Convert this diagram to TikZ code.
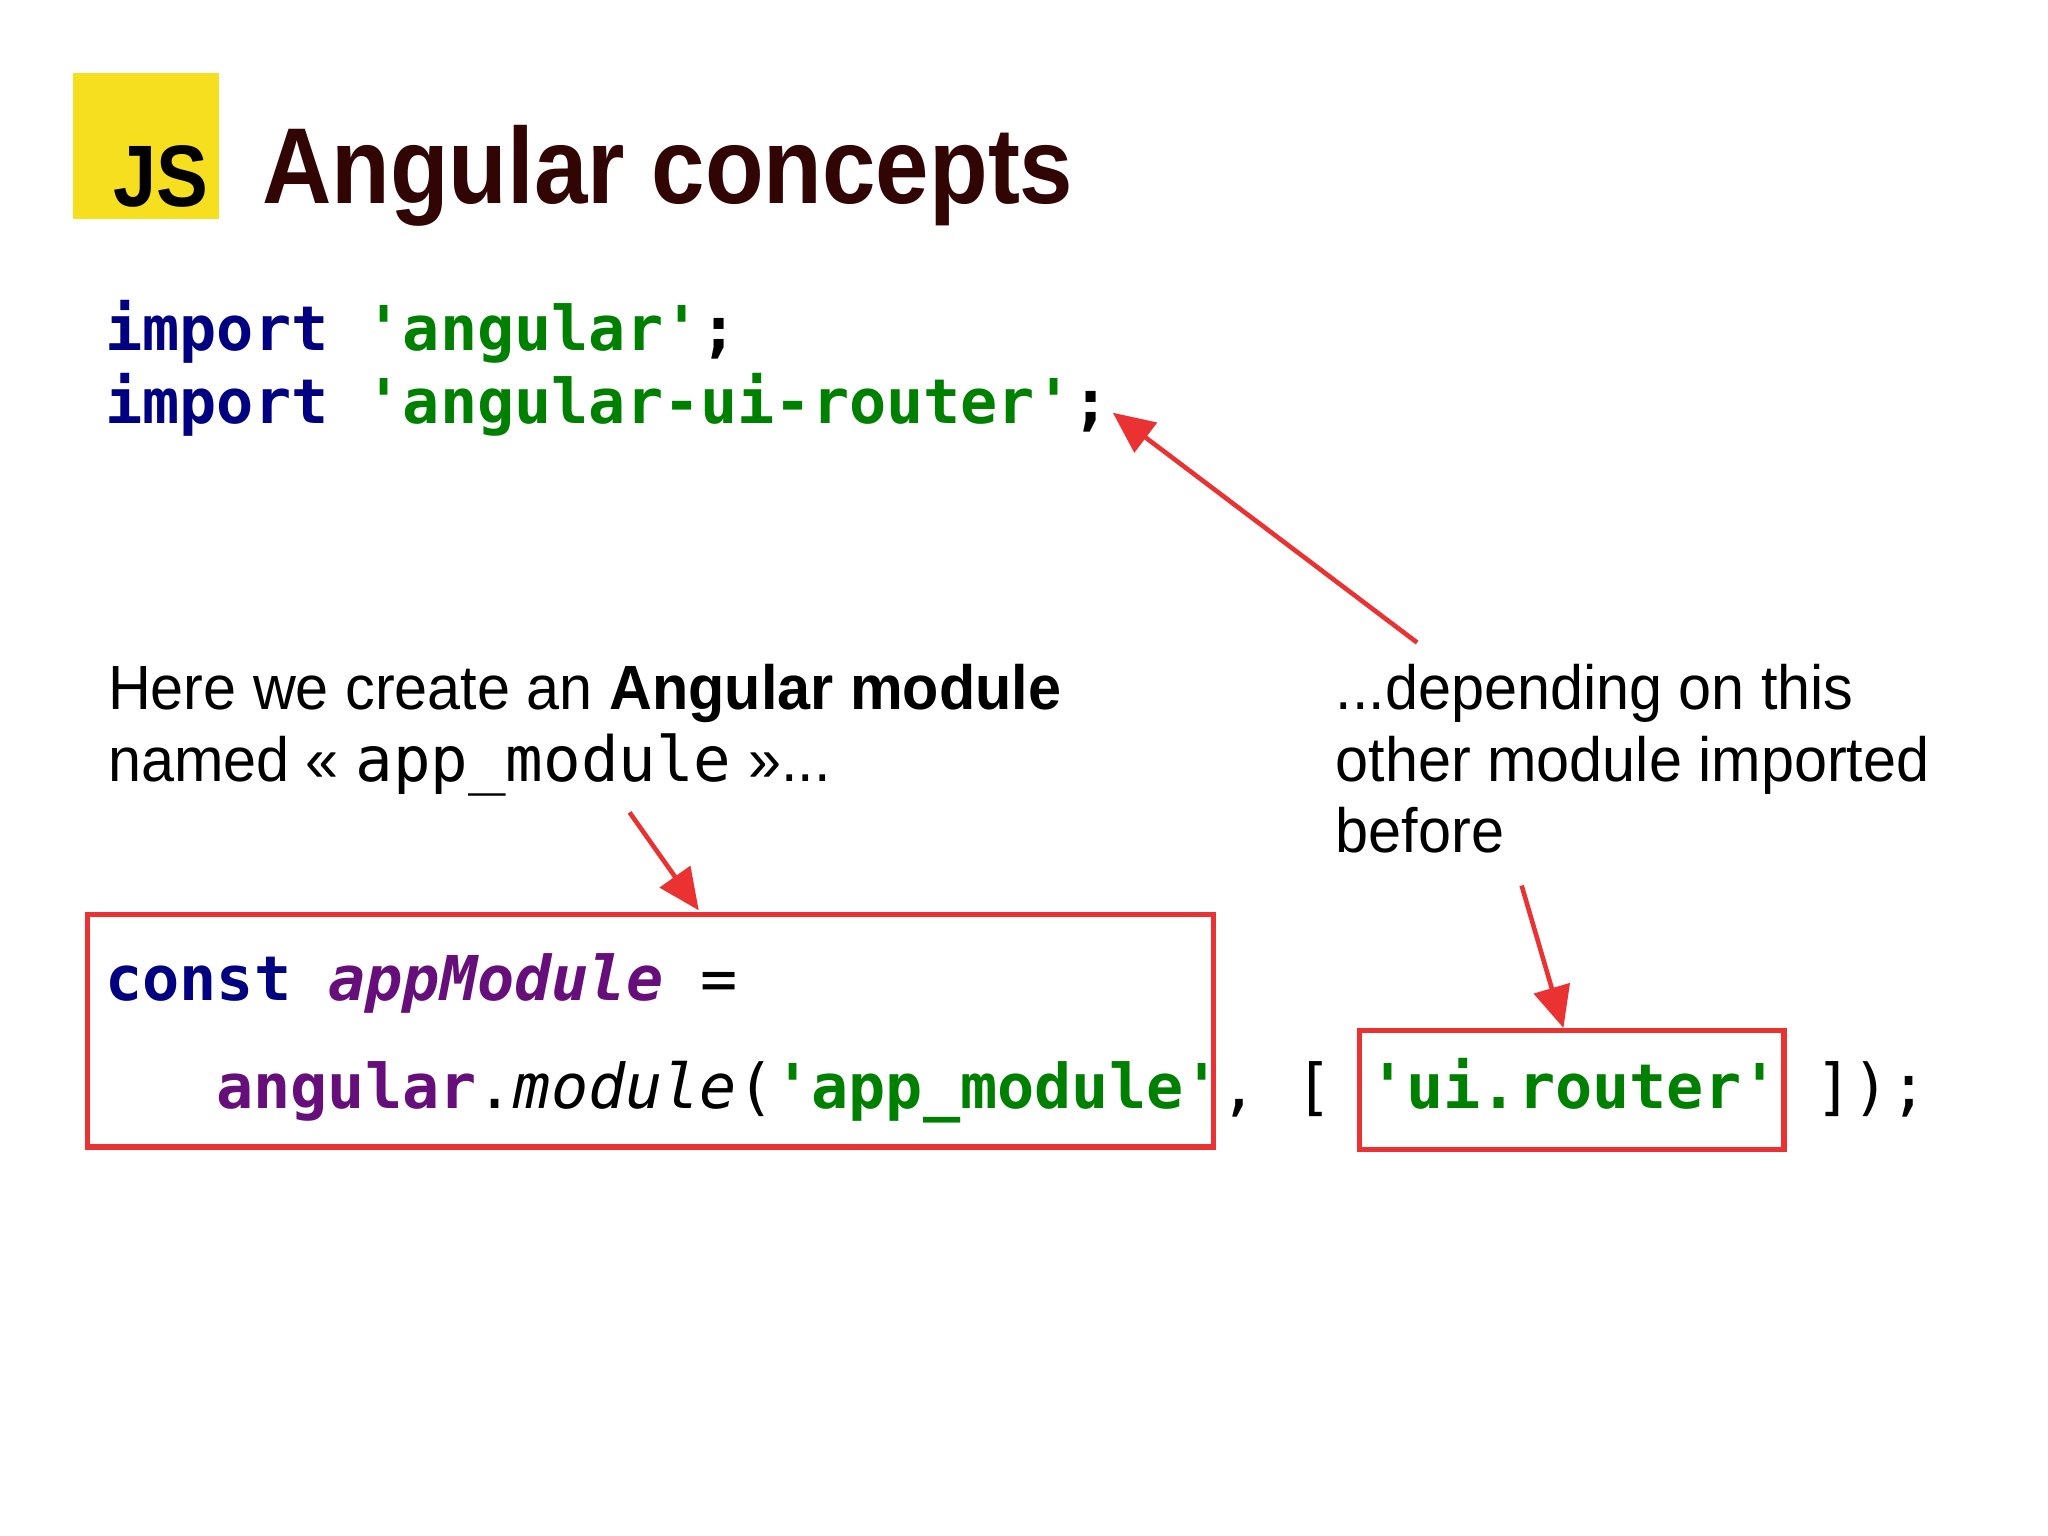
\documentclass[tikz,border=0pt]{standalone}
\usepackage{fontspec}
\setmainfont{Liberation Sans}[FakeStretch=0.95]
\newfontfamily\titlefont{Liberation Sans}[FakeStretch=0.89]
\setmonofont{DejaVu Sans Mono}
\usetikzlibrary{arrows.meta}
\definecolor{kw}{RGB}{0,0,128}
\definecolor{str}{RGB}{0,128,0}
\definecolor{pur}{RGB}{102,14,122}
\definecolor{rd}{RGB}{235,50,50}
\definecolor{jsy}{RGB}{246,223,30}
\definecolor{ttl}{RGB}{50,5,5}
\tikzset{
 code/.style={anchor=base west,inner sep=0pt,font=\ttfamily\fontsize{13.45pt}{16pt}\selectfont},
 note/.style={anchor=base west,inner sep=0pt,align=left,font=\fontsize{13.6pt}{15.6pt}\selectfont},
 redbox/.style={draw=rd,line width=1.2pt},
 arr/.style={draw=rd,line width=1pt,-{Triangle[length=9pt,width=8pt]}}
}
\begin{document}
\begin{tikzpicture}[x=0.01cm,y=-0.01cm]
\useasboundingbox[fill=white] (0,0) rectangle (1568,1176);
\fill[jsy] (56,56) rectangle (168,168);
\node[anchor=base east,inner sep=0pt,font=\titlefont\bfseries\fontsize{19pt}{20pt}\selectfont] (js) at (160,158) {JS};
\node[anchor=base west,inner sep=0pt,text=ttl,font=\titlefont\bfseries\fontsize{23.5pt}{28pt}\selectfont] (title) at (200,156) {Angular concepts};
\node[code] (imp1) at (80,268) {\bfseries\textcolor{kw}{import} \textcolor{str}{'angular'}\textcolor{black}{;}};
\node[code] (imp2) at (80,324) {\bfseries\textcolor{kw}{import} \textcolor{str}{'angular-ui-router'}\textcolor{black}{;}};
\node[note] (n1) at (82,543) {Here we create an \textbf{Angular module}};
\node[note] (n1b) at (82,598) {named « \texttt{app\_module} »...};
\node[note] (n2) at (1022,543) {...depending on this};
\node[note] (n2b) at (1022,598) {other module imported};
\node[note] (n2c) at (1022,653) {before};
\node[code] (c1) at (80,766) {\bfseries\textcolor{kw}{const} \textcolor{pur}{\itshape appModule} \mdseries=};
\node[code] (c2) at (165,849) {\textbf{\textcolor{pur}{angular}}.\textit{module}(\textbf{\textcolor{str}{'app\_module'}}, [ \textbf{\textcolor{str}{'ui.router'}} ]);};
\draw[redbox] (67,700) rectangle (929,878);
\draw[redbox] (1041,789) rectangle (1366,880);
\coordinate (a1s) at (1085,492); \coordinate (a1e) at (852,316);
\coordinate (a2s) at (482,622); \coordinate (a2e) at (535,697);
\coordinate (a3s) at (1165,678); \coordinate (a3e) at (1197,787);
\draw[arr] (a1s) -- (a1e);
\draw[arr] (a2s) -- (a2e);
\draw[arr] (a3s) -- (a3e);
\end{tikzpicture}
\end{document}
